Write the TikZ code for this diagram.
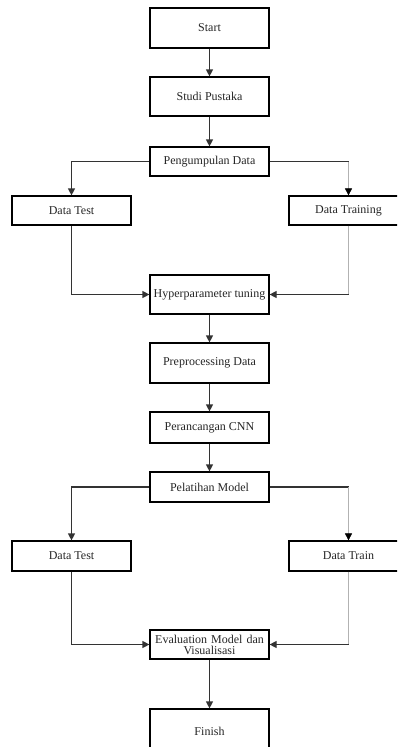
\documentclass[tikz,border=0pt]{standalone}
\usepackage{fontspec}
\setmainfont{Liberation Serif}
\usetikzlibrary{arrows.meta}
\begin{document}
\begin{tikzpicture}[x=1pt,y=-1pt,
  box/.style={draw=black,line width=1.2pt,fill=white,minimum width=119pt,inner sep=0pt,
    font=\fontsize{12}{12.5}\selectfont,text=black!85},
  flow/.style={draw=black!80,line width=1.2pt,-{Triangle[width=7pt,length=7pt]}},
  darkseg/.style={draw=black!80,line width=1.2pt},
  lightseg/.style={draw=black!30,line width=0.6pt},
  lightflow/.style={lightseg,-{Triangle[width=7pt,length=7pt,color=black]}}]
\useasboundingbox (0,0) rectangle (397,747);
\clip (0,0) rectangle (397,747);

% main column
\node[box,minimum height=40pt] (start) at (209.5,28) {Start};
\node[box,minimum height=39pt] (studi) at (209.5,96.5) {Studi Pustaka};
\node[box,minimum height=29pt] (kumpul) at (209.5,161.5) {Pengumpulan Data};
\node[box,minimum height=29pt] (test1) at (71.5,210.5) {Data Test};
\node[box,minimum height=29pt] (train1) at (348.5,210.5) {Data Training};
\node[box,minimum height=39pt] (hyper) at (209.5,294.5) {Hyperparameter tuning};
\node[box,minimum height=40pt] (prep) at (209.5,363) {Preprocessing Data};
\node[box,minimum height=31pt] (cnn) at (209.5,427.5) {Perancangan CNN};
\node[box,minimum height=30pt] (latih) at (209.5,487) {Pelatihan Model};
\node[box,minimum height=30pt] (test2) at (71.5,556) {Data Test};
\node[box,minimum height=30pt] (train2) at (348.5,556) {Data Train};
\node[box,minimum height=29pt,text width=117pt,align=center] (eval) at (209.5,644.5) {Evaluation Model dan\\[-1.5pt]Visualisasi};
\node[box,minimum height=44pt] (finish) at (209.5,731) {Finish};

% straight steps
\draw[flow] (start) -- (studi);
\draw[flow] (studi) -- (kumpul);
\draw[flow] (hyper) -- (prep);
\draw[flow] (prep) -- (cnn);
\draw[flow] (cnn) -- (latih);
\draw[flow] (eval) -- (finish);

% first split and merge
\draw[flow] (kumpul.west) -| (test1.north);
\draw[darkseg] (kumpul.east) -- (kumpul.east -| train1.north);
\draw[lightflow] (kumpul.east -| train1.north) -- (train1.north);
\draw[flow] (test1.south) |- (hyper.west);
\draw[lightseg] (train1.south) -- (train1.south |- hyper.east);
\draw[flow] (train1.south |- hyper.east) -- (hyper.east);

% second split and merge
\draw[flow] (latih.west) -| (test2.north);
\draw[darkseg] (latih.east) -- (latih.east -| train2.north);
\draw[lightflow] (latih.east -| train2.north) -- (train2.north);
\draw[flow] (test2.south) |- (eval.west);
\draw[lightseg] (train2.south) -- (train2.south |- eval.east);
\draw[flow] (train2.south |- eval.east) -- (eval.east);
\end{tikzpicture}
\end{document}
